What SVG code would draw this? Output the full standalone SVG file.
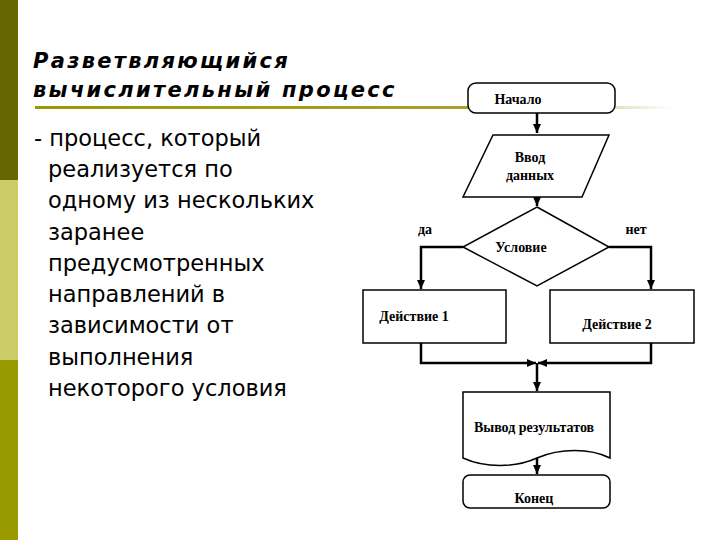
<svg xmlns="http://www.w3.org/2000/svg" width="720" height="540" viewBox="0 0 720 540">
<defs>
<marker id="ah" markerWidth="10" markerHeight="10" refX="9" refY="5" orient="auto" markerUnits="userSpaceOnUse"><path d="M0,1 L9,5 L0,9 Z" fill="#000"/></marker>
<linearGradient id="sep" x1="0" x2="1"><stop offset="0" stop-color="#999900"/><stop offset="0.7" stop-color="#aaa030"/><stop offset="1" stop-color="#ffffff"/></linearGradient>
</defs>
<style>
.s{fill:#fff;stroke:#000;stroke-width:1.5}
.c{fill:none;stroke:#000;stroke-width:2.5}
.t{font-family:"Liberation Serif",serif;font-weight:bold;font-size:14px;fill:#000;text-anchor:middle}
.b{font-family:"DejaVu Sans",Verdana,sans-serif;font-size:22.5px;fill:#000}
.h{font-family:"DejaVu Sans",Verdana,sans-serif;font-size:21px;font-weight:bold;font-style:italic;fill:#000;letter-spacing:2.3px}
</style>
<rect width="720" height="540" fill="#fff"/>
<rect x="0" y="0" width="18" height="180" fill="#666600"/>
<rect x="0" y="180" width="18" height="180" fill="#CCCC66"/>
<rect x="0" y="360" width="18" height="180" fill="#999900"/>
<rect x="35" y="106" width="640" height="3" fill="url(#sep)"/>
<text class="h" x="33" y="68">Разветвляющийся</text>
<text class="h" x="33" y="97">вычислительный процесс</text>
<g class="b">
<text x="34" y="146">- процесс, который</text>
<text x="48" y="177">реализуется по</text>
<text x="48" y="208">одному из нескольких</text>
<text x="48" y="240">заранее</text>
<text x="48" y="271">предусмотренных</text>
<text x="48" y="302">направлений в</text>
<text x="48" y="333">зависимости от</text>
<text x="48" y="365">выполнения</text>
<text x="48" y="396">некоторого условия</text>
</g>
<g id="connectors">
<path class="c" d="M537,113 V133" marker-end="url(#ah)"/>
<path class="c" d="M537,197 V206" marker-end="url(#ah)"/>
<path class="c" d="M463,247 H421 V289" marker-end="url(#ah)"/>
<path class="c" d="M609,247 H651 V289" marker-end="url(#ah)"/>
<path class="c" d="M421,343 V363 H536" marker-end="url(#ah)"/>
<path class="c" d="M651,343 V363 H538" marker-end="url(#ah)"/>
<path class="c" d="M537,363 V391" marker-end="url(#ah)"/>
<path class="c" d="M537,456 V474" marker-end="url(#ah)"/>
</g>
<g id="start"><rect class="s" x="468" y="83" width="147" height="30" rx="8"/><text class="t" x="518" y="104">Начало</text></g>
<g id="input"><path class="s" d="M493,135 H609 L582,197 H463 Z"/><text class="t" x="530" y="162">Ввод</text><text class="t" x="530" y="180">данных</text></g>
<g id="cond"><path class="s" d="M537,207 L609,247 L537,286 L463,247 Z"/><text class="t" x="521" y="252">Условие</text></g>
<text class="t" x="425" y="234">да</text>
<text class="t" x="636" y="234">нет</text>
<g id="act1"><rect class="s" x="363" y="290" width="143" height="53"/><text class="t" x="414" y="321">Действие 1</text></g>
<g id="act2"><rect class="s" x="550" y="290" width="144" height="53"/><text class="t" x="617" y="329">Действие 2</text></g>
<g id="output"><path class="s" d="M463,392 H610 V458 C590,448 560,448 537,458 C515,468 485,468 463,458 Z"/><text class="t" x="534" y="432">Вывод результатов</text></g>
<g id="end"><rect class="s" x="463" y="475" width="147" height="33" rx="7"/><text class="t" x="534" y="503">Конец</text></g>
</svg>
